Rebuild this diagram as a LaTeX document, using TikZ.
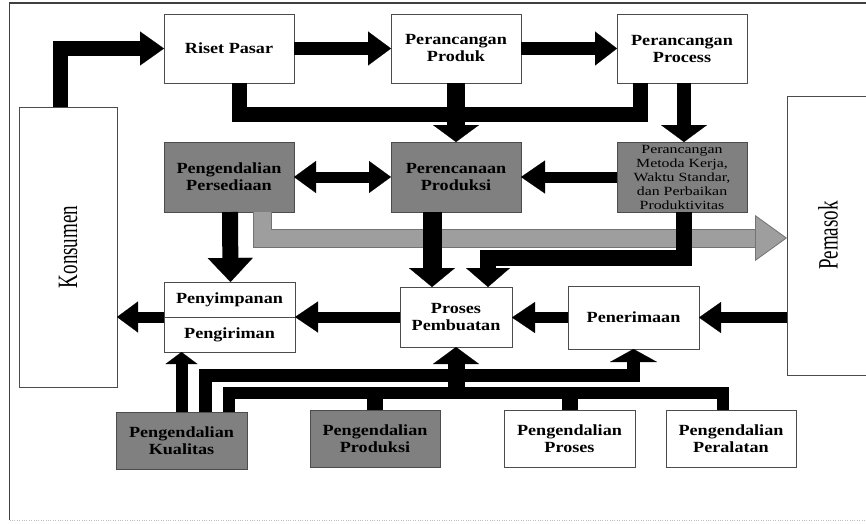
\documentclass[tikz,border=0pt]{standalone}
\usepackage{fontspec}
\setmainfont{Liberation Serif}
\newfontfamily\boxfont[FakeStretch=1.17]{Liberation Serif}
\newfontfamily\smallboxfont[FakeStretch=1.27]{Liberation Serif}
\newfontfamily\sidefont[FakeStretch=0.68]{Liberation Serif}
\usetikzlibrary{arrows.meta}
\definecolor{boxgray}{gray}{0.5}
\definecolor{flowgray}{gray}{0.62}

\begin{document}
\begin{tikzpicture}[x=1pt,y=-1pt,
  box/.style={draw=black!70, line width=0.9pt, fill=white, inner sep=0pt, outer sep=0pt,
    align=center, font=\boxfont\bfseries\fontsize{15.5}{17}\selectfont},
  darkbox/.style={box, fill=boxgray},
  sidebox/.style={box, rotate=90, font=\sidefont\fontsize{28}{30}\selectfont},
  flow/.style={draw=black, line width=#1, line join=miter},
  head/.style 2 args={-{Triangle[length=#1,width=#2,line width=0.1pt]}},
  both/.style 2 args={{Triangle[length=#1,width=#2,line width=0.1pt]}-{Triangle[length=#1,width=#2,line width=0.1pt]}}
]
% page and frame
\fill[white] (0,0) rectangle (866,523);
\useasboundingbox (0,0) rectangle (866,523);
\draw[black!75, line width=1.2pt] (9.5,520) -- (9.5,3) -- (870,3);
\draw[black!25, dotted] (9.5,520) -- (866,520);

% outside parties
\node[sidebox, minimum width=280pt, minimum height=98pt] (konsumen) at (68,247) {Konsumen};
\node[sidebox, minimum width=279pt, minimum height=82pt] (pemasok) at (828,235.5) {Pemasok};

% design row
\node[box, minimum width=130pt, minimum height=69pt] (riset) at (229,48.5) {Riset Pasar};
\node[box, minimum width=130pt, minimum height=69pt] (produk) at (456,48.5) {Perancangan\\Produk};
\node[box, minimum width=130pt, minimum height=69pt] (process) at (682,48.5) {Perancangan\\Process};

% planning row
\node[darkbox, minimum width=130pt, minimum height=70pt] (persediaan) at (229,177) {Pengendalian\\Persediaan};
\node[darkbox, minimum width=130pt, minimum height=70pt] (perencanaan) at (456,177) {Perencanaan\\Produksi};
\node[darkbox, minimum width=130pt, minimum height=70pt,
  font=\smallboxfont\fontsize{12.5}{14}\selectfont] (metoda) at (682,177)
  {Perancangan\\Metoda Kerja,\\Waktu Standar,\\dan Perbaikan\\Produktivitas};

% operations row
\node[box, minimum width=131pt, minimum height=35pt] (penyimpanan) at (229.5,299.5) {Penyimpanan};
\node[box, minimum width=131pt, minimum height=35pt] (pengiriman) at (229.5,334.5) {Pengiriman};
\node[box, minimum width=112pt, minimum height=60pt] (pembuatan) at (456,317) {Proses\\Pembuatan};
\node[box, minimum width=131pt, minimum height=63pt] (penerimaan) at (633.5,317.5) {Penerimaan};

% control row
\node[darkbox, minimum width=131pt, minimum height=57pt] (kualitas) at (181.5,440.5) {Pengendalian\\Kualitas};
\node[darkbox, minimum width=130pt, minimum height=57pt] (kprod) at (375,438.5) {Pengendalian\\Produksi};
\node[box, minimum width=131pt, minimum height=57pt] (kproses) at (569.5,438.5) {Pengendalian\\Proses};
\node[box, minimum width=130pt, minimum height=57pt] (peralatan) at (731,438.5) {Pengendalian\\Peralatan};

% bend points
\coordinate (topbus) at (456,114);
\coordinate (graybend) at (262,238);
\coordinate (midbend) at (684,258);
\coordinate (qbus) at (633.5,375);
\coordinate (lbus) at (456,393);

% design flow
\draw[flow=15pt, head={24pt}{34pt}] ([xshift=-8pt]konsumen.east) |- (riset.west);
\draw[flow=13pt, head={23pt}{34pt}] (riset) -- (produk);
\draw[flow=13pt, head={22pt}{34pt}] (produk) -- (process);
\draw[flow=15pt] ([xshift=10pt]riset.south) |- (topbus) -| ([xshift=-42pt]process.south);
\draw[flow=18pt, head={17pt}{46pt}] (produk) -- (perencanaan);
\draw[flow=14pt, head={17pt}{46pt}] ([xshift=2pt]process.south) -- ([xshift=2pt]metoda.north);

% planning links
\draw[flow=11pt, both={22pt}{32pt}] (persediaan) -- (perencanaan);
\draw[flow=11pt, head={24pt}{33pt}] (metoda) -- (perencanaan);

% material order to supplier
\draw[flow=19pt, draw=black!55, shorten >=28pt] ([xshift=33pt]persediaan.south) -- (graybend) -- (graybend -| pemasok.north);
\draw[flow=17pt, draw=flowgray, -{Triangle[length=32pt,width=46pt,line width=0.8pt,color=black!55,fill=flowgray]}]
  ([xshift=33pt]persediaan.south) -- (graybend) -- (graybend -| pemasok.north);

% planning to operations
\draw[flow=16pt, head={24pt}{45pt}] ([xshift=1pt]persediaan.south) -- ([xshift=1pt]penyimpanan.north);
\draw[flow=19pt, head={19pt}{46pt}] ([xshift=-24pt]perencanaan.south) -- ([xshift=-24pt]pembuatan.north);
\draw[flow=16pt, head={19pt}{44pt}] ([xshift=2pt]metoda.south) -- (midbend) -| ([xshift=32pt]pembuatan.north);

% material flow
\draw[flow=11pt, head={22pt}{31pt}] (penerimaan.east -| pemasok.north) -- (penerimaan.east);
\draw[flow=11pt, head={23pt}{31pt}] (penerimaan.west) -- (penerimaan.west -| pembuatan.east);
\draw[flow=11pt, head={23pt}{31pt}] (pembuatan.west) -- (penyimpanan.south east);
\draw[flow=11pt, head={21pt}{31pt}] (penyimpanan.south west) -- (penyimpanan.south west -| konsumen.south);

% control links
\draw[flow=12pt, head={12pt}{32pt}] (kualitas.north) -- (kualitas.north |- pengiriman.south);
\draw[flow=13pt, head={13pt}{47pt}] ([xshift=23.5pt]kualitas.north) |- (qbus) -- (penerimaan.south);
\draw[flow=12pt] ([xshift=47.5pt]kualitas.north) |- (lbus) -| ([xshift=-8pt]peralatan.north);
\draw[flow=16pt] (kprod.north) -- (kprod.north |- lbus);
\draw[flow=16pt] (kproses.north) -- (kproses.north |- lbus);
\draw[flow=17pt, head={17pt}{46pt}] (lbus) -- (pembuatan.south);
\end{tikzpicture}
\end{document}
